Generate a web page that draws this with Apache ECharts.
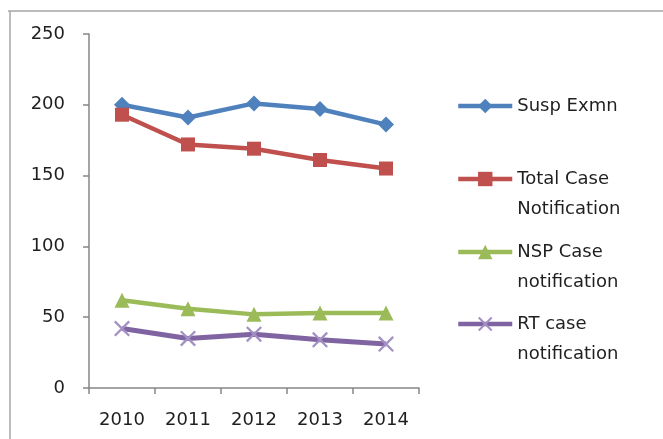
<!DOCTYPE html>
<html>
<head>
<meta charset="utf-8">
<script src="https://cdn.jsdelivr.net/npm/echarts@6/dist/echarts.min.js"></script>
<style>
  html, body { margin: 0; padding: 0; background: #fff; }
  #chart { width: 663px; height: 439px; }
</style>
</head>
<body>
<div id="chart"></div>
<script>
  var years = ['2010', '2011', '2012', '2013', '2014'];
  var suspExmn = [200, 191, 201, 197, 186];
  var totalCase = [193, 172, 169, 161, 155];
  var nspCase = [62, 56, 52, 53, 53];
  var rtCase = [42, 35, 38, 34, 31];
  var yTicks = { min: 0, max: 250, step: 50 };

  // legend texts (leading blank line keeps the icon on the first text line)
  var legendText = {
    'Susp Exmn': 'Susp Exmn',
    'Total Case Notification': '\nTotal Case\nNotification',
    'NSP Case notification': '\nNSP Case\nnotification',
    'RT case notification': '\nRT case\nnotification'
  };

  var font = 'DejaVu Sans';
  var crossPath = 'path://M0,1L1,0L10,9L9,10Z M9,0L10,1L1,10L0,9Z';

  var chart = echarts.init(document.getElementById('chart'));

  var mkLegend = function (name, top) {
    return {
      data: [name],
      left: 451,
      top: top,
      itemWidth: 54,
      itemHeight: 18,
      itemGap: 0,
      selectedMode: false,
      lineStyle: { width: 4.5 },
      formatter: function (n) { return legendText[n]; },
      textStyle: { fontFamily: font, fontSize: 18, color: '#1f1f1f', lineHeight: 30 }
    };
  };

  var option = {
    animation: false,
    grid: { left: 89, right: 244, top: 34, bottom: 51 },
    legend: [
      mkLegend('Susp Exmn', 86),
      mkLegend('Total Case Notification', 129),
      mkLegend('NSP Case notification', 202),
      mkLegend('RT case notification', 274)
    ],
    xAxis: {
      type: 'category',
      data: years,
      boundaryGap: true,
      axisLine: { lineStyle: { color: '#868686', width: 1.5 } },
      axisTick: { show: true, length: 6, interval: 0, lineStyle: { color: '#868686', width: 1.5 } },
      axisLabel: { fontFamily: font, fontSize: 18, color: '#1f1f1f', margin: 23 }
    },
    yAxis: {
      type: 'value',
      min: yTicks.min,
      max: yTicks.max,
      interval: yTicks.step,
      axisLine: { show: true, lineStyle: { color: '#868686', width: 1.5 } },
      axisTick: { show: true, length: 6, lineStyle: { color: '#868686', width: 1.5 } },
      splitLine: { show: false },
      axisLabel: { fontFamily: font, fontSize: 18, color: '#1f1f1f', margin: 24 }
    },
    graphic: [
      { type: 'line', shape: { x1: 8, y1: 11, x2: 663, y2: 11 }, style: { stroke: '#a6a6a6', lineWidth: 1.5 } },
      { type: 'line', shape: { x1: 10, y1: 11, x2: 10, y2: 439 }, style: { stroke: '#a6a6a6', lineWidth: 1.5 } }
    ],
    series: [
      {
        name: 'Susp Exmn', type: 'line', data: suspExmn,
        symbol: 'diamond', symbolSize: 16,
        lineStyle: { color: '#4F81BD', width: 4.5 },
        itemStyle: { color: '#4F81BD' }
      },
      {
        name: 'Total Case Notification', type: 'line', data: totalCase,
        symbol: 'rect', symbolSize: 14,
        lineStyle: { color: '#C0504D', width: 4.5 },
        itemStyle: { color: '#C0504D' }
      },
      {
        name: 'NSP Case notification', type: 'line', data: nspCase,
        symbol: 'triangle', symbolSize: 15,
        lineStyle: { color: '#9BBB59', width: 4.5 },
        itemStyle: { color: '#9BBB59' }
      },
      {
        name: 'RT case notification', type: 'line', data: rtCase,
        symbol: crossPath, symbolSize: 16,
        lineStyle: { color: '#8064A2', width: 5 },
        itemStyle: { color: '#a390c4' }
      }
    ]
  };

  chart.setOption(option);
</script>
</body>
</html>
